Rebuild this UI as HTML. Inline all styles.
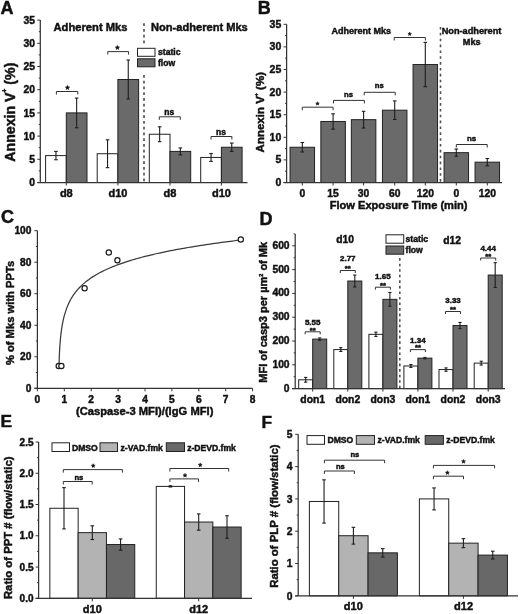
<!DOCTYPE html>
<html><head><meta charset="utf-8"><style>
html,body{margin:0;padding:0;background:#fff;width:520px;height:614px;overflow:hidden}
svg{display:block;filter:grayscale(1)}
text{font-family:"Liberation Sans",sans-serif;font-weight:bold;stroke:#111;stroke-width:0.45px}
</style></head><body>
<svg width="520" height="614" viewBox="0 0 520 614">
<rect width="520" height="614" fill="#fff"/>
<text x="0.60" y="13.90" font-size="18" text-anchor="start" fill="#111">A</text>
<line x1="40.30" y1="20.10" x2="40.30" y2="182.50" stroke="#333" stroke-width="1.25"/>
<line x1="37.30" y1="182.50" x2="40.30" y2="182.50" stroke="#333" stroke-width="1.0"/>
<text x="35.00" y="186.21" font-size="10.3" text-anchor="end" fill="#111">0</text>
<line x1="37.30" y1="159.30" x2="40.30" y2="159.30" stroke="#333" stroke-width="1.0"/>
<text x="35.00" y="163.01" font-size="10.3" text-anchor="end" fill="#111">5</text>
<line x1="37.30" y1="136.10" x2="40.30" y2="136.10" stroke="#333" stroke-width="1.0"/>
<text x="35.00" y="139.81" font-size="10.3" text-anchor="end" fill="#111">10</text>
<line x1="37.30" y1="112.90" x2="40.30" y2="112.90" stroke="#333" stroke-width="1.0"/>
<text x="35.00" y="116.61" font-size="10.3" text-anchor="end" fill="#111">15</text>
<line x1="37.30" y1="89.70" x2="40.30" y2="89.70" stroke="#333" stroke-width="1.0"/>
<text x="35.00" y="93.41" font-size="10.3" text-anchor="end" fill="#111">20</text>
<line x1="37.30" y1="66.50" x2="40.30" y2="66.50" stroke="#333" stroke-width="1.0"/>
<text x="35.00" y="70.21" font-size="10.3" text-anchor="end" fill="#111">25</text>
<line x1="37.30" y1="43.30" x2="40.30" y2="43.30" stroke="#333" stroke-width="1.0"/>
<text x="35.00" y="47.01" font-size="10.3" text-anchor="end" fill="#111">30</text>
<line x1="37.30" y1="20.10" x2="40.30" y2="20.10" stroke="#333" stroke-width="1.0"/>
<text x="35.00" y="23.81" font-size="10.3" text-anchor="end" fill="#111">35</text>
<line x1="38.80" y1="170.90" x2="40.30" y2="170.90" stroke="#333" stroke-width="1.0"/>
<line x1="38.80" y1="147.70" x2="40.30" y2="147.70" stroke="#333" stroke-width="1.0"/>
<line x1="38.80" y1="124.50" x2="40.30" y2="124.50" stroke="#333" stroke-width="1.0"/>
<line x1="38.80" y1="101.30" x2="40.30" y2="101.30" stroke="#333" stroke-width="1.0"/>
<line x1="38.80" y1="78.10" x2="40.30" y2="78.10" stroke="#333" stroke-width="1.0"/>
<line x1="38.80" y1="54.90" x2="40.30" y2="54.90" stroke="#333" stroke-width="1.0"/>
<line x1="38.80" y1="31.70" x2="40.30" y2="31.70" stroke="#333" stroke-width="1.0"/>
<rect x="45.60" y="155.59" width="20.70" height="26.91" fill="#fff" stroke="#222" stroke-width="1.0"/>
<rect x="66.30" y="112.90" width="20.70" height="69.60" fill="#6a6a6a" stroke="#222" stroke-width="1.0"/>
<line x1="55.95" y1="151.41" x2="55.95" y2="159.76" stroke="#1e1e1e" stroke-width="1.1"/>
<line x1="54.15" y1="151.41" x2="57.75" y2="151.41" stroke="#1e1e1e" stroke-width="1.1"/>
<line x1="54.15" y1="159.76" x2="57.75" y2="159.76" stroke="#1e1e1e" stroke-width="1.1"/>
<line x1="76.65" y1="98.05" x2="76.65" y2="127.75" stroke="#1e1e1e" stroke-width="1.1"/>
<line x1="74.85" y1="98.05" x2="78.45" y2="98.05" stroke="#1e1e1e" stroke-width="1.1"/>
<line x1="74.85" y1="127.75" x2="78.45" y2="127.75" stroke="#1e1e1e" stroke-width="1.1"/>
<rect x="97.20" y="153.73" width="20.70" height="28.77" fill="#fff" stroke="#222" stroke-width="1.0"/>
<rect x="117.90" y="79.49" width="20.70" height="103.01" fill="#6a6a6a" stroke="#222" stroke-width="1.0"/>
<line x1="107.55" y1="139.81" x2="107.55" y2="167.65" stroke="#1e1e1e" stroke-width="1.1"/>
<line x1="105.75" y1="139.81" x2="109.35" y2="139.81" stroke="#1e1e1e" stroke-width="1.1"/>
<line x1="105.75" y1="167.65" x2="109.35" y2="167.65" stroke="#1e1e1e" stroke-width="1.1"/>
<line x1="128.25" y1="60.00" x2="128.25" y2="98.98" stroke="#1e1e1e" stroke-width="1.1"/>
<line x1="126.45" y1="60.00" x2="130.05" y2="60.00" stroke="#1e1e1e" stroke-width="1.1"/>
<line x1="126.45" y1="98.98" x2="130.05" y2="98.98" stroke="#1e1e1e" stroke-width="1.1"/>
<rect x="149.30" y="134.24" width="20.70" height="48.26" fill="#fff" stroke="#222" stroke-width="1.0"/>
<rect x="170.00" y="151.41" width="20.70" height="31.09" fill="#6a6a6a" stroke="#222" stroke-width="1.0"/>
<line x1="159.65" y1="126.82" x2="159.65" y2="141.67" stroke="#1e1e1e" stroke-width="1.1"/>
<line x1="157.85" y1="126.82" x2="161.45" y2="126.82" stroke="#1e1e1e" stroke-width="1.1"/>
<line x1="157.85" y1="141.67" x2="161.45" y2="141.67" stroke="#1e1e1e" stroke-width="1.1"/>
<line x1="180.35" y1="147.93" x2="180.35" y2="154.89" stroke="#1e1e1e" stroke-width="1.1"/>
<line x1="178.55" y1="147.93" x2="182.15" y2="147.93" stroke="#1e1e1e" stroke-width="1.1"/>
<line x1="178.55" y1="154.89" x2="182.15" y2="154.89" stroke="#1e1e1e" stroke-width="1.1"/>
<rect x="200.70" y="157.44" width="20.70" height="25.06" fill="#fff" stroke="#222" stroke-width="1.0"/>
<rect x="221.40" y="147.24" width="20.70" height="35.26" fill="#6a6a6a" stroke="#222" stroke-width="1.0"/>
<line x1="211.05" y1="153.50" x2="211.05" y2="161.39" stroke="#1e1e1e" stroke-width="1.1"/>
<line x1="209.25" y1="153.50" x2="212.85" y2="153.50" stroke="#1e1e1e" stroke-width="1.1"/>
<line x1="209.25" y1="161.39" x2="212.85" y2="161.39" stroke="#1e1e1e" stroke-width="1.1"/>
<line x1="231.75" y1="143.06" x2="231.75" y2="151.41" stroke="#1e1e1e" stroke-width="1.1"/>
<line x1="229.95" y1="143.06" x2="233.55" y2="143.06" stroke="#1e1e1e" stroke-width="1.1"/>
<line x1="229.95" y1="151.41" x2="233.55" y2="151.41" stroke="#1e1e1e" stroke-width="1.1"/>
<line x1="37.30" y1="182.50" x2="247.50" y2="182.50" stroke="#333" stroke-width="1.25"/>
<line x1="66.30" y1="182.50" x2="66.30" y2="185.50" stroke="#333" stroke-width="1.0"/>
<line x1="117.90" y1="182.50" x2="117.90" y2="185.50" stroke="#333" stroke-width="1.0"/>
<line x1="170.00" y1="182.50" x2="170.00" y2="185.50" stroke="#333" stroke-width="1.0"/>
<line x1="221.40" y1="182.50" x2="221.40" y2="185.50" stroke="#333" stroke-width="1.0"/>
<text x="66.30" y="197.20" font-size="11" text-anchor="middle" fill="#111">d8</text>
<text x="117.90" y="197.20" font-size="11" text-anchor="middle" fill="#111">d10</text>
<text x="170.00" y="197.20" font-size="11" text-anchor="middle" fill="#111">d8</text>
<text x="221.40" y="197.20" font-size="11" text-anchor="middle" fill="#111">d10</text>
<line x1="144.00" y1="23.30" x2="144.00" y2="182.50" stroke="#555" stroke-width="1.7" stroke-dasharray="2.6,3.15"/>
<rect x="135" y="44.5" width="48" height="29" fill="#fff"/>
<rect x="137.50" y="48.30" width="17.50" height="8.00" fill="#fff" stroke="#222" stroke-width="1.0"/>
<rect x="137.50" y="58.80" width="17.50" height="8.00" fill="#6a6a6a" stroke="#222" stroke-width="1.0"/>
<text x="158.00" y="55.30" font-size="8.6" text-anchor="start" fill="#111">static</text>
<text x="158.00" y="65.80" font-size="8.6" text-anchor="start" fill="#111">flow</text>
<text x="53.50" y="31.00" font-size="11.2" text-anchor="start" fill="#111">Adherent Mks</text>
<text x="151.00" y="31.00" font-size="11.1" text-anchor="start" fill="#111">Non-adherent Mks</text>
<polyline points="56.40,94.50 56.40,91.50 77.80,91.50 77.80,94.50" fill="none" stroke="#333" stroke-width="1.0"/>
<polygon points="67.50,85.40 68.11,86.86 69.69,86.99 68.48,88.02 68.85,89.56 67.50,88.73 66.15,89.56 66.52,88.02 65.31,86.99 66.89,86.86" fill="#111" stroke="#111" stroke-width="0.5"/>
<polyline points="107.80,54.60 107.80,51.60 128.60,51.60 128.60,54.60" fill="none" stroke="#333" stroke-width="1.0"/>
<polygon points="117.40,45.40 118.01,46.86 119.59,46.99 118.38,48.02 118.75,49.56 117.40,48.73 116.05,49.56 116.42,48.02 115.21,46.99 116.79,46.86" fill="#111" stroke="#111" stroke-width="0.5"/>
<polyline points="159.30,119.80 159.30,116.80 180.30,116.80 180.30,119.80" fill="none" stroke="#333" stroke-width="1.0"/>
<text x="169.20" y="114.70" font-size="8.5" text-anchor="middle" fill="#111">ns</text>
<polyline points="211.00,139.50 211.00,136.50 231.90,136.50 231.90,139.50" fill="none" stroke="#333" stroke-width="1.0"/>
<text x="220.90" y="134.70" font-size="8.5" text-anchor="middle" fill="#111">ns</text>
<text x="14.60" y="112.20" font-size="14.2" text-anchor="middle" fill="#111" transform="rotate(-90 14.60 112.20)">Annexin V<tspan dy="-7.6" font-size="6.5">+</tspan><tspan dy="7.6"> (%)</tspan></text>
<text x="257.70" y="13.90" font-size="18" text-anchor="start" fill="#111">B</text>
<line x1="286.60" y1="24.30" x2="286.60" y2="182.50" stroke="#333" stroke-width="1.25"/>
<line x1="283.60" y1="182.50" x2="286.60" y2="182.50" stroke="#333" stroke-width="1.0"/>
<text x="281.30" y="185.98" font-size="10.5" text-anchor="end" fill="#111">0</text>
<line x1="283.60" y1="159.90" x2="286.60" y2="159.90" stroke="#333" stroke-width="1.0"/>
<text x="281.30" y="163.38" font-size="10.5" text-anchor="end" fill="#111">5</text>
<line x1="283.60" y1="137.30" x2="286.60" y2="137.30" stroke="#333" stroke-width="1.0"/>
<text x="281.30" y="140.78" font-size="10.5" text-anchor="end" fill="#111">10</text>
<line x1="283.60" y1="114.70" x2="286.60" y2="114.70" stroke="#333" stroke-width="1.0"/>
<text x="281.30" y="118.18" font-size="10.5" text-anchor="end" fill="#111">15</text>
<line x1="283.60" y1="92.10" x2="286.60" y2="92.10" stroke="#333" stroke-width="1.0"/>
<text x="281.30" y="95.58" font-size="10.5" text-anchor="end" fill="#111">20</text>
<line x1="283.60" y1="69.50" x2="286.60" y2="69.50" stroke="#333" stroke-width="1.0"/>
<text x="281.30" y="72.98" font-size="10.5" text-anchor="end" fill="#111">25</text>
<line x1="283.60" y1="46.90" x2="286.60" y2="46.90" stroke="#333" stroke-width="1.0"/>
<text x="281.30" y="50.38" font-size="10.5" text-anchor="end" fill="#111">30</text>
<line x1="283.60" y1="24.30" x2="286.60" y2="24.30" stroke="#333" stroke-width="1.0"/>
<text x="281.30" y="27.78" font-size="10.5" text-anchor="end" fill="#111">35</text>
<line x1="285.10" y1="171.20" x2="286.60" y2="171.20" stroke="#333" stroke-width="1.0"/>
<line x1="285.10" y1="148.60" x2="286.60" y2="148.60" stroke="#333" stroke-width="1.0"/>
<line x1="285.10" y1="126.00" x2="286.60" y2="126.00" stroke="#333" stroke-width="1.0"/>
<line x1="285.10" y1="103.40" x2="286.60" y2="103.40" stroke="#333" stroke-width="1.0"/>
<line x1="285.10" y1="80.80" x2="286.60" y2="80.80" stroke="#333" stroke-width="1.0"/>
<line x1="285.10" y1="58.20" x2="286.60" y2="58.20" stroke="#333" stroke-width="1.0"/>
<line x1="285.10" y1="35.60" x2="286.60" y2="35.60" stroke="#333" stroke-width="1.0"/>
<rect x="290.05" y="147.24" width="24.50" height="35.26" fill="#6a6a6a" stroke="#222" stroke-width="1.0"/>
<line x1="302.30" y1="142.50" x2="302.30" y2="151.99" stroke="#1e1e1e" stroke-width="1.1"/>
<line x1="300.50" y1="142.50" x2="304.10" y2="142.50" stroke="#1e1e1e" stroke-width="1.1"/>
<line x1="300.50" y1="151.99" x2="304.10" y2="151.99" stroke="#1e1e1e" stroke-width="1.1"/>
<rect x="320.85" y="121.48" width="24.50" height="61.02" fill="#6a6a6a" stroke="#222" stroke-width="1.0"/>
<line x1="333.10" y1="113.80" x2="333.10" y2="129.16" stroke="#1e1e1e" stroke-width="1.1"/>
<line x1="331.30" y1="113.80" x2="334.90" y2="113.80" stroke="#1e1e1e" stroke-width="1.1"/>
<line x1="331.30" y1="129.16" x2="334.90" y2="129.16" stroke="#1e1e1e" stroke-width="1.1"/>
<rect x="351.35" y="119.67" width="24.50" height="62.83" fill="#6a6a6a" stroke="#222" stroke-width="1.0"/>
<line x1="363.60" y1="111.31" x2="363.60" y2="128.03" stroke="#1e1e1e" stroke-width="1.1"/>
<line x1="361.80" y1="111.31" x2="365.40" y2="111.31" stroke="#1e1e1e" stroke-width="1.1"/>
<line x1="361.80" y1="128.03" x2="365.40" y2="128.03" stroke="#1e1e1e" stroke-width="1.1"/>
<rect x="382.45" y="110.18" width="24.50" height="72.32" fill="#6a6a6a" stroke="#222" stroke-width="1.0"/>
<line x1="394.70" y1="100.91" x2="394.70" y2="119.45" stroke="#1e1e1e" stroke-width="1.1"/>
<line x1="392.90" y1="100.91" x2="396.50" y2="100.91" stroke="#1e1e1e" stroke-width="1.1"/>
<line x1="392.90" y1="119.45" x2="396.50" y2="119.45" stroke="#1e1e1e" stroke-width="1.1"/>
<rect x="413.05" y="64.53" width="24.50" height="117.97" fill="#6a6a6a" stroke="#222" stroke-width="1.0"/>
<line x1="425.30" y1="42.38" x2="425.30" y2="86.68" stroke="#1e1e1e" stroke-width="1.1"/>
<line x1="423.50" y1="42.38" x2="427.10" y2="42.38" stroke="#1e1e1e" stroke-width="1.1"/>
<line x1="423.50" y1="86.68" x2="427.10" y2="86.68" stroke="#1e1e1e" stroke-width="1.1"/>
<rect x="444.05" y="152.67" width="24.50" height="29.83" fill="#6a6a6a" stroke="#222" stroke-width="1.0"/>
<line x1="456.30" y1="149.05" x2="456.30" y2="156.28" stroke="#1e1e1e" stroke-width="1.1"/>
<line x1="454.50" y1="149.05" x2="458.10" y2="149.05" stroke="#1e1e1e" stroke-width="1.1"/>
<line x1="454.50" y1="156.28" x2="458.10" y2="156.28" stroke="#1e1e1e" stroke-width="1.1"/>
<rect x="475.05" y="162.16" width="24.50" height="20.34" fill="#6a6a6a" stroke="#222" stroke-width="1.0"/>
<line x1="487.30" y1="158.54" x2="487.30" y2="165.78" stroke="#1e1e1e" stroke-width="1.1"/>
<line x1="485.50" y1="158.54" x2="489.10" y2="158.54" stroke="#1e1e1e" stroke-width="1.1"/>
<line x1="485.50" y1="165.78" x2="489.10" y2="165.78" stroke="#1e1e1e" stroke-width="1.1"/>
<line x1="283.60" y1="182.50" x2="502.00" y2="182.50" stroke="#333" stroke-width="1.25"/>
<line x1="302.30" y1="182.50" x2="302.30" y2="185.50" stroke="#333" stroke-width="1.0"/>
<line x1="333.10" y1="182.50" x2="333.10" y2="185.50" stroke="#333" stroke-width="1.0"/>
<line x1="363.60" y1="182.50" x2="363.60" y2="185.50" stroke="#333" stroke-width="1.0"/>
<line x1="394.70" y1="182.50" x2="394.70" y2="185.50" stroke="#333" stroke-width="1.0"/>
<line x1="425.30" y1="182.50" x2="425.30" y2="185.50" stroke="#333" stroke-width="1.0"/>
<line x1="456.30" y1="182.50" x2="456.30" y2="185.50" stroke="#333" stroke-width="1.0"/>
<line x1="487.30" y1="182.50" x2="487.30" y2="185.50" stroke="#333" stroke-width="1.0"/>
<text x="302.30" y="196.60" font-size="10.3" text-anchor="middle" fill="#111">0</text>
<text x="333.10" y="196.60" font-size="10.3" text-anchor="middle" fill="#111">15</text>
<text x="363.60" y="196.60" font-size="10.3" text-anchor="middle" fill="#111">30</text>
<text x="394.70" y="196.60" font-size="10.3" text-anchor="middle" fill="#111">60</text>
<text x="425.30" y="196.60" font-size="10.3" text-anchor="middle" fill="#111">120</text>
<text x="456.30" y="196.60" font-size="10.3" text-anchor="middle" fill="#111">0</text>
<text x="487.30" y="196.60" font-size="10.3" text-anchor="middle" fill="#111">120</text>
<text x="398.60" y="209.20" font-size="11.1" text-anchor="middle" fill="#111">Flow Exposure Time (min)</text>
<line x1="440.50" y1="27.00" x2="440.50" y2="182.50" stroke="#505050" stroke-width="1.6" stroke-dasharray="2.6,3.25"/>
<text x="331.60" y="33.60" font-size="9.0" text-anchor="start" fill="#111">Adherent Mks</text>
<text x="471.50" y="33.60" font-size="9.2" text-anchor="middle" fill="#111">Non-adherent</text>
<text x="471.70" y="45.00" font-size="9.2" text-anchor="middle" fill="#111">Mks</text>
<polyline points="302.30,110.20 302.30,107.20 333.10,107.20 333.10,110.20" fill="none" stroke="#333" stroke-width="1.0"/>
<polygon points="317.50,101.70 318.00,102.91 319.31,103.01 318.31,103.86 318.62,105.14 317.50,104.45 316.38,105.14 316.69,103.86 315.69,103.01 317.00,102.91" fill="#111" stroke="#111" stroke-width="0.5"/>
<polyline points="333.50,103.40 333.50,100.40 364.40,100.40 364.40,103.40" fill="none" stroke="#333" stroke-width="1.0"/>
<text x="348.50" y="96.70" font-size="7.7" text-anchor="middle" fill="#111">ns</text>
<polyline points="364.20,95.30 364.20,92.30 395.20,92.30 395.20,95.30" fill="none" stroke="#333" stroke-width="1.0"/>
<text x="379.20" y="88.30" font-size="7.7" text-anchor="middle" fill="#111">ns</text>
<polyline points="394.20,40.50 394.20,37.50 425.40,37.50 425.40,40.50" fill="none" stroke="#333" stroke-width="1.0"/>
<polygon points="409.70,32.10 410.20,33.31 411.51,33.41 410.51,34.26 410.82,35.54 409.70,34.85 408.58,35.54 408.89,34.26 407.89,33.41 409.20,33.31" fill="#111" stroke="#111" stroke-width="0.5"/>
<polyline points="456.30,147.50 456.30,144.50 487.20,144.50 487.20,147.50" fill="none" stroke="#333" stroke-width="1.0"/>
<text x="471.50" y="140.80" font-size="7.9" text-anchor="middle" fill="#111">ns</text>
<text x="264.20" y="112.20" font-size="11.5" text-anchor="middle" fill="#111" transform="rotate(-90 264.20 112.20)">Annexin V<tspan dy="-6.6" font-size="5.2">+</tspan><tspan dy="6.6"> (%)</tspan></text>
<text x="1.00" y="223.00" font-size="18" text-anchor="start" fill="#111">C</text>
<line x1="37.40" y1="230.70" x2="37.40" y2="388.30" stroke="#333" stroke-width="1.25"/>
<line x1="34.40" y1="388.30" x2="37.40" y2="388.30" stroke="#333" stroke-width="1.0"/>
<text x="31.40" y="391.97" font-size="10.2" text-anchor="end" fill="#111">0</text>
<line x1="34.40" y1="356.78" x2="37.40" y2="356.78" stroke="#333" stroke-width="1.0"/>
<text x="31.40" y="360.45" font-size="10.2" text-anchor="end" fill="#111">20</text>
<line x1="34.40" y1="325.26" x2="37.40" y2="325.26" stroke="#333" stroke-width="1.0"/>
<text x="31.40" y="328.93" font-size="10.2" text-anchor="end" fill="#111">40</text>
<line x1="34.40" y1="293.74" x2="37.40" y2="293.74" stroke="#333" stroke-width="1.0"/>
<text x="31.40" y="297.41" font-size="10.2" text-anchor="end" fill="#111">60</text>
<line x1="34.40" y1="262.22" x2="37.40" y2="262.22" stroke="#333" stroke-width="1.0"/>
<text x="31.40" y="265.89" font-size="10.2" text-anchor="end" fill="#111">80</text>
<line x1="34.40" y1="230.70" x2="37.40" y2="230.70" stroke="#333" stroke-width="1.0"/>
<text x="31.40" y="234.37" font-size="10.2" text-anchor="end" fill="#111">100</text>
<line x1="35.90" y1="372.54" x2="37.40" y2="372.54" stroke="#333" stroke-width="1.0"/>
<line x1="35.90" y1="341.02" x2="37.40" y2="341.02" stroke="#333" stroke-width="1.0"/>
<line x1="35.90" y1="309.50" x2="37.40" y2="309.50" stroke="#333" stroke-width="1.0"/>
<line x1="35.90" y1="277.98" x2="37.40" y2="277.98" stroke="#333" stroke-width="1.0"/>
<line x1="35.90" y1="246.46" x2="37.40" y2="246.46" stroke="#333" stroke-width="1.0"/>
<line x1="34.40" y1="388.30" x2="252.60" y2="388.30" stroke="#333" stroke-width="1.25"/>
<line x1="37.40" y1="388.30" x2="37.40" y2="391.30" stroke="#333" stroke-width="1.0"/>
<text x="37.40" y="402.60" font-size="10.2" text-anchor="middle" fill="#111">0</text>
<line x1="64.30" y1="388.30" x2="64.30" y2="391.30" stroke="#333" stroke-width="1.0"/>
<text x="64.30" y="402.60" font-size="10.2" text-anchor="middle" fill="#111">1</text>
<line x1="91.20" y1="388.30" x2="91.20" y2="391.30" stroke="#333" stroke-width="1.0"/>
<text x="91.20" y="402.60" font-size="10.2" text-anchor="middle" fill="#111">2</text>
<line x1="118.10" y1="388.30" x2="118.10" y2="391.30" stroke="#333" stroke-width="1.0"/>
<text x="118.10" y="402.60" font-size="10.2" text-anchor="middle" fill="#111">3</text>
<line x1="145.00" y1="388.30" x2="145.00" y2="391.30" stroke="#333" stroke-width="1.0"/>
<text x="145.00" y="402.60" font-size="10.2" text-anchor="middle" fill="#111">4</text>
<line x1="171.90" y1="388.30" x2="171.90" y2="391.30" stroke="#333" stroke-width="1.0"/>
<text x="171.90" y="402.60" font-size="10.2" text-anchor="middle" fill="#111">5</text>
<line x1="198.80" y1="388.30" x2="198.80" y2="391.30" stroke="#333" stroke-width="1.0"/>
<text x="198.80" y="402.60" font-size="10.2" text-anchor="middle" fill="#111">6</text>
<line x1="225.70" y1="388.30" x2="225.70" y2="391.30" stroke="#333" stroke-width="1.0"/>
<text x="225.70" y="402.60" font-size="10.2" text-anchor="middle" fill="#111">7</text>
<line x1="252.60" y1="388.30" x2="252.60" y2="391.30" stroke="#333" stroke-width="1.0"/>
<text x="252.60" y="402.60" font-size="10.2" text-anchor="middle" fill="#111">8</text>
<polyline points="58.97,366.45 59.16,360.48 59.34,355.79 59.52,351.93 59.71,348.64 59.89,345.78 60.08,343.25 60.26,340.97 60.44,338.92 60.63,337.03 60.81,335.30 60.99,333.69 61.18,332.19 61.36,330.78 61.55,329.47 61.73,328.22 61.91,327.04 62.10,325.92 62.28,324.86 62.46,323.84 62.65,322.87 62.83,321.94 63.01,321.05 63.20,320.19 63.38,319.36 63.57,318.57 63.75,317.80 63.93,317.06 64.12,316.34 64.30,315.64 64.30,315.64 66.51,308.63 68.73,303.32 70.94,299.04 73.15,295.46 75.37,292.38 77.58,289.68 79.79,287.27 82.01,285.10 84.22,283.12 86.43,281.31 88.65,279.64 90.86,278.08 93.07,276.62 95.29,275.26 97.50,273.97 99.71,272.76 101.93,271.61 104.14,270.51 106.35,269.47 108.57,268.48 110.78,267.52 112.99,266.61 115.21,265.74 117.42,264.89 119.63,264.08 121.85,263.30 124.06,262.54 126.27,261.81 128.49,261.10 130.70,260.42 132.91,259.75 135.13,259.10 137.34,258.48 139.55,257.87 141.77,257.27 143.98,256.70 146.19,256.13 148.41,255.58 150.62,255.05 152.83,254.52 155.04,254.01 157.26,253.51 159.47,253.03 161.68,252.55 163.90,252.08 166.11,251.62 168.32,251.17 170.54,250.73 172.75,250.30 174.96,249.88 177.18,249.46 179.39,249.06 181.60,248.66 183.82,248.26 186.03,247.88 188.24,247.50 190.46,247.13 192.67,246.76 194.88,246.40 197.10,246.04 199.31,245.69 201.52,245.35 203.74,245.01 205.95,244.68 208.16,244.35 210.38,244.03 212.59,243.71 214.80,243.39 217.02,243.08 219.23,242.78 221.44,242.48 223.66,242.18 225.87,241.88 228.08,241.60 230.30,241.31 232.51,241.03 234.72,240.75 236.94,240.47 239.15,240.20" fill="none" stroke="#3a3a3a" stroke-width="1.25"/>
<circle cx="58.7" cy="366" r="2.6" fill="#fff" stroke="#1a1a1a" stroke-width="1.2"/>
<circle cx="61.4" cy="366" r="2.6" fill="#fff" stroke="#1a1a1a" stroke-width="1.2"/>
<circle cx="84.6" cy="288.3" r="2.6" fill="#fff" stroke="#1a1a1a" stroke-width="1.2"/>
<circle cx="108.8" cy="252.5" r="2.6" fill="#fff" stroke="#1a1a1a" stroke-width="1.2"/>
<circle cx="117.4" cy="260.3" r="2.6" fill="#fff" stroke="#1a1a1a" stroke-width="1.2"/>
<circle cx="240.8" cy="239.5" r="2.6" fill="#fff" stroke="#1a1a1a" stroke-width="1.2"/>
<text x="144.70" y="414.50" font-size="11.2" text-anchor="middle" fill="#111">(Caspase-3 MFI)/(IgG MFI)</text>
<text x="13.60" y="313.00" font-size="11.2" text-anchor="middle" fill="#111" transform="rotate(-90 13.60 313.00)">% of Mks with PPTs</text>
<text x="259.60" y="225.00" font-size="18" text-anchor="start" fill="#111">D</text>
<line x1="295.20" y1="233.90" x2="295.20" y2="388.60" stroke="#333" stroke-width="1.25"/>
<line x1="292.20" y1="388.60" x2="295.20" y2="388.60" stroke="#333" stroke-width="1.0"/>
<text x="289.60" y="391.51" font-size="10.3" text-anchor="end" fill="#111">0</text>
<line x1="292.20" y1="364.80" x2="295.20" y2="364.80" stroke="#333" stroke-width="1.0"/>
<text x="289.60" y="367.71" font-size="10.3" text-anchor="end" fill="#111">100</text>
<line x1="292.20" y1="341.00" x2="295.20" y2="341.00" stroke="#333" stroke-width="1.0"/>
<text x="289.60" y="343.91" font-size="10.3" text-anchor="end" fill="#111">200</text>
<line x1="292.20" y1="317.20" x2="295.20" y2="317.20" stroke="#333" stroke-width="1.0"/>
<text x="289.60" y="320.11" font-size="10.3" text-anchor="end" fill="#111">300</text>
<line x1="292.20" y1="293.40" x2="295.20" y2="293.40" stroke="#333" stroke-width="1.0"/>
<text x="289.60" y="296.31" font-size="10.3" text-anchor="end" fill="#111">400</text>
<line x1="292.20" y1="269.60" x2="295.20" y2="269.60" stroke="#333" stroke-width="1.0"/>
<text x="289.60" y="272.51" font-size="10.3" text-anchor="end" fill="#111">500</text>
<line x1="292.20" y1="245.80" x2="295.20" y2="245.80" stroke="#333" stroke-width="1.0"/>
<text x="289.60" y="248.71" font-size="10.3" text-anchor="end" fill="#111">600</text>
<line x1="293.70" y1="376.70" x2="295.20" y2="376.70" stroke="#333" stroke-width="1.0"/>
<line x1="293.70" y1="352.90" x2="295.20" y2="352.90" stroke="#333" stroke-width="1.0"/>
<line x1="293.70" y1="329.10" x2="295.20" y2="329.10" stroke="#333" stroke-width="1.0"/>
<line x1="293.70" y1="305.30" x2="295.20" y2="305.30" stroke="#333" stroke-width="1.0"/>
<line x1="293.70" y1="281.50" x2="295.20" y2="281.50" stroke="#333" stroke-width="1.0"/>
<line x1="293.70" y1="257.70" x2="295.20" y2="257.70" stroke="#333" stroke-width="1.0"/>
<line x1="293.70" y1="233.90" x2="295.20" y2="233.90" stroke="#333" stroke-width="1.0"/>
<rect x="298.70" y="379.79" width="14.00" height="8.81" fill="#fff" stroke="#222" stroke-width="1.0"/>
<rect x="312.70" y="339.10" width="14.00" height="49.50" fill="#6a6a6a" stroke="#222" stroke-width="1.0"/>
<line x1="305.70" y1="377.41" x2="305.70" y2="382.17" stroke="#1e1e1e" stroke-width="1.1"/>
<line x1="304.10" y1="377.41" x2="307.30" y2="377.41" stroke="#1e1e1e" stroke-width="1.1"/>
<line x1="304.10" y1="382.17" x2="307.30" y2="382.17" stroke="#1e1e1e" stroke-width="1.1"/>
<line x1="319.70" y1="337.91" x2="319.70" y2="340.29" stroke="#1e1e1e" stroke-width="1.1"/>
<line x1="318.10" y1="337.91" x2="321.30" y2="337.91" stroke="#1e1e1e" stroke-width="1.1"/>
<line x1="318.10" y1="340.29" x2="321.30" y2="340.29" stroke="#1e1e1e" stroke-width="1.1"/>
<rect x="333.80" y="349.57" width="14.00" height="39.03" fill="#fff" stroke="#222" stroke-width="1.0"/>
<rect x="347.80" y="281.02" width="14.00" height="107.58" fill="#6a6a6a" stroke="#222" stroke-width="1.0"/>
<line x1="340.80" y1="347.66" x2="340.80" y2="351.47" stroke="#1e1e1e" stroke-width="1.1"/>
<line x1="339.20" y1="347.66" x2="342.40" y2="347.66" stroke="#1e1e1e" stroke-width="1.1"/>
<line x1="339.20" y1="351.47" x2="342.40" y2="351.47" stroke="#1e1e1e" stroke-width="1.1"/>
<line x1="354.80" y1="275.07" x2="354.80" y2="286.97" stroke="#1e1e1e" stroke-width="1.1"/>
<line x1="353.20" y1="275.07" x2="356.40" y2="275.07" stroke="#1e1e1e" stroke-width="1.1"/>
<line x1="353.20" y1="286.97" x2="356.40" y2="286.97" stroke="#1e1e1e" stroke-width="1.1"/>
<rect x="368.90" y="334.34" width="14.00" height="54.26" fill="#fff" stroke="#222" stroke-width="1.0"/>
<rect x="382.90" y="299.35" width="14.00" height="89.25" fill="#6a6a6a" stroke="#222" stroke-width="1.0"/>
<line x1="375.90" y1="332.19" x2="375.90" y2="336.48" stroke="#1e1e1e" stroke-width="1.1"/>
<line x1="374.30" y1="332.19" x2="377.50" y2="332.19" stroke="#1e1e1e" stroke-width="1.1"/>
<line x1="374.30" y1="336.48" x2="377.50" y2="336.48" stroke="#1e1e1e" stroke-width="1.1"/>
<line x1="389.90" y1="292.45" x2="389.90" y2="306.25" stroke="#1e1e1e" stroke-width="1.1"/>
<line x1="388.30" y1="292.45" x2="391.50" y2="292.45" stroke="#1e1e1e" stroke-width="1.1"/>
<line x1="388.30" y1="306.25" x2="391.50" y2="306.25" stroke="#1e1e1e" stroke-width="1.1"/>
<rect x="403.90" y="365.99" width="14.00" height="22.61" fill="#fff" stroke="#222" stroke-width="1.0"/>
<rect x="417.90" y="358.14" width="14.00" height="30.46" fill="#6a6a6a" stroke="#222" stroke-width="1.0"/>
<line x1="410.90" y1="364.56" x2="410.90" y2="367.42" stroke="#1e1e1e" stroke-width="1.1"/>
<line x1="409.30" y1="364.56" x2="412.50" y2="364.56" stroke="#1e1e1e" stroke-width="1.1"/>
<line x1="409.30" y1="367.42" x2="412.50" y2="367.42" stroke="#1e1e1e" stroke-width="1.1"/>
<line x1="424.90" y1="357.42" x2="424.90" y2="358.85" stroke="#1e1e1e" stroke-width="1.1"/>
<line x1="423.30" y1="357.42" x2="426.50" y2="357.42" stroke="#1e1e1e" stroke-width="1.1"/>
<line x1="423.30" y1="358.85" x2="426.50" y2="358.85" stroke="#1e1e1e" stroke-width="1.1"/>
<rect x="439.00" y="369.56" width="14.00" height="19.04" fill="#fff" stroke="#222" stroke-width="1.0"/>
<rect x="453.00" y="325.53" width="14.00" height="63.07" fill="#6a6a6a" stroke="#222" stroke-width="1.0"/>
<line x1="446.00" y1="367.89" x2="446.00" y2="371.23" stroke="#1e1e1e" stroke-width="1.1"/>
<line x1="444.40" y1="367.89" x2="447.60" y2="367.89" stroke="#1e1e1e" stroke-width="1.1"/>
<line x1="444.40" y1="371.23" x2="447.60" y2="371.23" stroke="#1e1e1e" stroke-width="1.1"/>
<line x1="460.00" y1="322.44" x2="460.00" y2="328.62" stroke="#1e1e1e" stroke-width="1.1"/>
<line x1="458.40" y1="322.44" x2="461.60" y2="322.44" stroke="#1e1e1e" stroke-width="1.1"/>
<line x1="458.40" y1="328.62" x2="461.60" y2="328.62" stroke="#1e1e1e" stroke-width="1.1"/>
<rect x="474.20" y="363.13" width="14.00" height="25.47" fill="#fff" stroke="#222" stroke-width="1.0"/>
<rect x="488.20" y="275.07" width="14.00" height="113.53" fill="#6a6a6a" stroke="#222" stroke-width="1.0"/>
<line x1="481.20" y1="361.23" x2="481.20" y2="365.04" stroke="#1e1e1e" stroke-width="1.1"/>
<line x1="479.60" y1="361.23" x2="482.80" y2="361.23" stroke="#1e1e1e" stroke-width="1.1"/>
<line x1="479.60" y1="365.04" x2="482.80" y2="365.04" stroke="#1e1e1e" stroke-width="1.1"/>
<line x1="495.20" y1="262.70" x2="495.20" y2="287.45" stroke="#1e1e1e" stroke-width="1.1"/>
<line x1="493.60" y1="262.70" x2="496.80" y2="262.70" stroke="#1e1e1e" stroke-width="1.1"/>
<line x1="493.60" y1="287.45" x2="496.80" y2="287.45" stroke="#1e1e1e" stroke-width="1.1"/>
<line x1="292.20" y1="388.60" x2="505.00" y2="388.60" stroke="#333" stroke-width="1.25"/>
<line x1="312.70" y1="388.60" x2="312.70" y2="391.60" stroke="#333" stroke-width="1.0"/>
<line x1="347.80" y1="388.60" x2="347.80" y2="391.60" stroke="#333" stroke-width="1.0"/>
<line x1="382.90" y1="388.60" x2="382.90" y2="391.60" stroke="#333" stroke-width="1.0"/>
<line x1="417.90" y1="388.60" x2="417.90" y2="391.60" stroke="#333" stroke-width="1.0"/>
<line x1="453.00" y1="388.60" x2="453.00" y2="391.60" stroke="#333" stroke-width="1.0"/>
<line x1="488.20" y1="388.60" x2="488.20" y2="391.60" stroke="#333" stroke-width="1.0"/>
<text x="312.70" y="402.80" font-size="10.4" text-anchor="middle" fill="#111">don1</text>
<text x="347.80" y="402.80" font-size="10.4" text-anchor="middle" fill="#111">don2</text>
<text x="382.90" y="402.80" font-size="10.4" text-anchor="middle" fill="#111">don3</text>
<text x="417.90" y="402.80" font-size="10.4" text-anchor="middle" fill="#111">don1</text>
<text x="453.00" y="402.80" font-size="10.4" text-anchor="middle" fill="#111">don2</text>
<text x="488.20" y="402.80" font-size="10.4" text-anchor="middle" fill="#111">don3</text>
<line x1="399.80" y1="258.10" x2="399.80" y2="388.60" stroke="#505050" stroke-width="1.6" stroke-dasharray="2.6,2.95"/>
<rect x="384" y="232" width="47" height="24" fill="#fff"/>
<rect x="386.00" y="234.80" width="17.70" height="8.40" fill="#fff" stroke="#222" stroke-width="1.0"/>
<rect x="386.00" y="246.00" width="17.70" height="8.20" fill="#6a6a6a" stroke="#222" stroke-width="1.0"/>
<text x="405.60" y="241.90" font-size="8.6" text-anchor="start" fill="#111">static</text>
<text x="405.60" y="252.50" font-size="8.6" text-anchor="start" fill="#111">flow</text>
<text x="345.00" y="243.00" font-size="10.3" text-anchor="middle" fill="#111">d10</text>
<text x="452.00" y="243.50" font-size="10.3" text-anchor="middle" fill="#111">d12</text>
<polyline points="305.20,334.30 305.20,331.80 320.20,331.80 320.20,334.30" fill="none" stroke="#333" stroke-width="1.0"/>
<text x="312.70" y="332.60" font-size="7.6" text-anchor="middle" fill="#111">**</text>
<text x="312.70" y="324.60" font-size="8" text-anchor="middle" fill="#111">5.55</text>
<polyline points="340.30,273.00 340.30,270.50 355.30,270.50 355.30,273.00" fill="none" stroke="#333" stroke-width="1.0"/>
<text x="347.80" y="271.30" font-size="7.6" text-anchor="middle" fill="#111">**</text>
<text x="347.80" y="261.40" font-size="8" text-anchor="middle" fill="#111">2.77</text>
<polyline points="375.40,289.70 375.40,287.20 390.40,287.20 390.40,289.70" fill="none" stroke="#333" stroke-width="1.0"/>
<text x="382.90" y="288.00" font-size="7.6" text-anchor="middle" fill="#111">**</text>
<text x="382.90" y="279.30" font-size="8" text-anchor="middle" fill="#111">1.65</text>
<polyline points="410.40,352.10 410.40,349.60 425.40,349.60 425.40,352.10" fill="none" stroke="#333" stroke-width="1.0"/>
<text x="417.90" y="350.40" font-size="7.6" text-anchor="middle" fill="#111">**</text>
<text x="417.90" y="343.10" font-size="8" text-anchor="middle" fill="#111">1.34</text>
<polyline points="445.50,314.00 445.50,311.50 460.50,311.50 460.50,314.00" fill="none" stroke="#333" stroke-width="1.0"/>
<text x="453.00" y="312.30" font-size="7.6" text-anchor="middle" fill="#111">**</text>
<text x="453.00" y="303.40" font-size="8" text-anchor="middle" fill="#111">3.33</text>
<polyline points="480.70,260.50 480.70,258.00 495.70,258.00 495.70,260.50" fill="none" stroke="#333" stroke-width="1.0"/>
<text x="488.20" y="258.80" font-size="7.6" text-anchor="middle" fill="#111">**</text>
<text x="488.20" y="250.70" font-size="8" text-anchor="middle" fill="#111">4.44</text>
<text x="267.50" y="312.30" font-size="11" text-anchor="middle" fill="#111" transform="rotate(-90 267.50 312.30)">MFI of casp3 per µm<tspan dy="-4.2" font-size="5.5">2</tspan><tspan dy="4.2"> of Mk</tspan></text>
<text x="0.60" y="427.20" font-size="17.3" text-anchor="start" fill="#111">E</text>
<line x1="38.60" y1="442.00" x2="38.60" y2="598.30" stroke="#333" stroke-width="1.25"/>
<line x1="35.60" y1="598.30" x2="38.60" y2="598.30" stroke="#333" stroke-width="1.0"/>
<text x="33.50" y="601.90" font-size="10" text-anchor="end" fill="#111">0.0</text>
<line x1="35.60" y1="567.04" x2="38.60" y2="567.04" stroke="#333" stroke-width="1.0"/>
<text x="33.50" y="570.64" font-size="10" text-anchor="end" fill="#111">0.5</text>
<line x1="35.60" y1="535.78" x2="38.60" y2="535.78" stroke="#333" stroke-width="1.0"/>
<text x="33.50" y="539.38" font-size="10" text-anchor="end" fill="#111">1.0</text>
<line x1="35.60" y1="504.52" x2="38.60" y2="504.52" stroke="#333" stroke-width="1.0"/>
<text x="33.50" y="508.12" font-size="10" text-anchor="end" fill="#111">1.5</text>
<line x1="35.60" y1="473.26" x2="38.60" y2="473.26" stroke="#333" stroke-width="1.0"/>
<text x="33.50" y="476.86" font-size="10" text-anchor="end" fill="#111">2.0</text>
<line x1="35.60" y1="442.00" x2="38.60" y2="442.00" stroke="#333" stroke-width="1.0"/>
<text x="33.50" y="445.60" font-size="10" text-anchor="end" fill="#111">2.5</text>
<line x1="37.10" y1="582.67" x2="38.60" y2="582.67" stroke="#333" stroke-width="1.0"/>
<line x1="37.10" y1="551.41" x2="38.60" y2="551.41" stroke="#333" stroke-width="1.0"/>
<line x1="37.10" y1="520.15" x2="38.60" y2="520.15" stroke="#333" stroke-width="1.0"/>
<line x1="37.10" y1="488.89" x2="38.60" y2="488.89" stroke="#333" stroke-width="1.0"/>
<line x1="37.10" y1="457.63" x2="38.60" y2="457.63" stroke="#333" stroke-width="1.0"/>
<rect x="49.85" y="508.27" width="28.30" height="90.03" fill="#fff" stroke="#222" stroke-width="1.0"/>
<line x1="64.00" y1="487.64" x2="64.00" y2="528.90" stroke="#1e1e1e" stroke-width="1.1"/>
<line x1="62.20" y1="487.64" x2="65.80" y2="487.64" stroke="#1e1e1e" stroke-width="1.1"/>
<line x1="62.20" y1="528.90" x2="65.80" y2="528.90" stroke="#1e1e1e" stroke-width="1.1"/>
<rect x="78.15" y="532.65" width="28.30" height="65.65" fill="#b3b3b3" stroke="#222" stroke-width="1.0"/>
<line x1="92.30" y1="525.78" x2="92.30" y2="539.53" stroke="#1e1e1e" stroke-width="1.1"/>
<line x1="90.50" y1="525.78" x2="94.10" y2="525.78" stroke="#1e1e1e" stroke-width="1.1"/>
<line x1="90.50" y1="539.53" x2="94.10" y2="539.53" stroke="#1e1e1e" stroke-width="1.1"/>
<rect x="106.45" y="544.53" width="28.30" height="53.77" fill="#686868" stroke="#222" stroke-width="1.0"/>
<line x1="120.60" y1="538.91" x2="120.60" y2="550.16" stroke="#1e1e1e" stroke-width="1.1"/>
<line x1="118.80" y1="538.91" x2="122.40" y2="538.91" stroke="#1e1e1e" stroke-width="1.1"/>
<line x1="118.80" y1="550.16" x2="122.40" y2="550.16" stroke="#1e1e1e" stroke-width="1.1"/>
<rect x="156.25" y="486.39" width="28.30" height="111.91" fill="#fff" stroke="#222" stroke-width="1.0"/>
<line x1="170.40" y1="485.76" x2="170.40" y2="487.01" stroke="#1e1e1e" stroke-width="1.1"/>
<line x1="168.60" y1="485.76" x2="172.20" y2="485.76" stroke="#1e1e1e" stroke-width="1.1"/>
<line x1="168.60" y1="487.01" x2="172.20" y2="487.01" stroke="#1e1e1e" stroke-width="1.1"/>
<rect x="184.55" y="522.03" width="28.30" height="76.27" fill="#b3b3b3" stroke="#222" stroke-width="1.0"/>
<line x1="198.70" y1="513.90" x2="198.70" y2="530.15" stroke="#1e1e1e" stroke-width="1.1"/>
<line x1="196.90" y1="513.90" x2="200.50" y2="513.90" stroke="#1e1e1e" stroke-width="1.1"/>
<line x1="196.90" y1="530.15" x2="200.50" y2="530.15" stroke="#1e1e1e" stroke-width="1.1"/>
<rect x="212.85" y="527.03" width="28.30" height="71.27" fill="#686868" stroke="#222" stroke-width="1.0"/>
<line x1="227.00" y1="515.77" x2="227.00" y2="538.28" stroke="#1e1e1e" stroke-width="1.1"/>
<line x1="225.20" y1="515.77" x2="228.80" y2="515.77" stroke="#1e1e1e" stroke-width="1.1"/>
<line x1="225.20" y1="538.28" x2="228.80" y2="538.28" stroke="#1e1e1e" stroke-width="1.1"/>
<line x1="35.60" y1="598.30" x2="252.00" y2="598.30" stroke="#333" stroke-width="1.25"/>
<line x1="92.30" y1="598.30" x2="92.30" y2="601.30" stroke="#333" stroke-width="1.0"/>
<line x1="198.70" y1="598.30" x2="198.70" y2="601.30" stroke="#333" stroke-width="1.0"/>
<text x="92.30" y="612.50" font-size="11" text-anchor="middle" fill="#111">d10</text>
<text x="198.70" y="612.50" font-size="11" text-anchor="middle" fill="#111">d12</text>
<rect x="52.00" y="442.80" width="17.50" height="8.70" fill="#fff" stroke="#222" stroke-width="1.0"/>
<text x="72.00" y="450.50" font-size="8.6" text-anchor="start" fill="#111">DMSO</text>
<rect x="100.00" y="442.80" width="17.50" height="8.70" fill="#b3b3b3" stroke="#222" stroke-width="1.0"/>
<text x="120.50" y="450.50" font-size="8.6" text-anchor="start" fill="#111">z-VAD.fmk</text>
<rect x="166.30" y="442.80" width="18.20" height="8.70" fill="#686868" stroke="#222" stroke-width="1.0"/>
<text x="187.20" y="450.50" font-size="8.6" text-anchor="start" fill="#111">z-DEVD.fmk</text>
<polyline points="63.30,472.60 63.30,469.60 122.40,469.60 122.40,472.60" fill="none" stroke="#333" stroke-width="1.0"/>
<polygon points="93.20,463.70 93.76,465.04 95.20,465.15 94.10,466.09 94.43,467.50 93.20,466.75 91.97,467.50 92.30,466.09 91.20,465.15 92.64,465.04" fill="#111" stroke="#111" stroke-width="0.5"/>
<polyline points="63.30,484.50 63.30,481.50 92.20,481.50 92.20,484.50" fill="none" stroke="#333" stroke-width="1.0"/>
<text x="78.90" y="479.60" font-size="7.6" text-anchor="middle" fill="#111">ns</text>
<polyline points="169.90,471.50 169.90,468.50 228.70,468.50 228.70,471.50" fill="none" stroke="#333" stroke-width="1.0"/>
<polygon points="200.20,462.90 200.76,464.24 202.20,464.35 201.10,465.29 201.43,466.70 200.20,465.94 198.97,466.70 199.30,465.29 198.20,464.35 199.64,464.24" fill="#111" stroke="#111" stroke-width="0.5"/>
<polyline points="169.90,481.90 169.90,478.90 198.50,478.90 198.50,481.90" fill="none" stroke="#333" stroke-width="1.0"/>
<polygon points="185.00,473.30 185.56,474.64 187.00,474.75 185.90,475.69 186.23,477.10 185.00,476.34 183.77,477.10 184.10,475.69 183.00,474.75 184.44,474.64" fill="#111" stroke="#111" stroke-width="0.5"/>
<text x="12.30" y="527.80" font-size="11.3" text-anchor="middle" fill="#111" transform="rotate(-90 12.30 527.80)">Ratio of PPT # (flow/static)</text>
<text x="261.50" y="427.70" font-size="17.3" text-anchor="start" fill="#111">F</text>
<line x1="298.20" y1="434.30" x2="298.20" y2="595.80" stroke="#333" stroke-width="1.25"/>
<line x1="295.20" y1="595.80" x2="298.20" y2="595.80" stroke="#333" stroke-width="1.0"/>
<text x="292.60" y="599.51" font-size="10.3" text-anchor="end" fill="#111">0</text>
<line x1="295.20" y1="563.50" x2="298.20" y2="563.50" stroke="#333" stroke-width="1.0"/>
<text x="292.60" y="567.21" font-size="10.3" text-anchor="end" fill="#111">1</text>
<line x1="295.20" y1="531.20" x2="298.20" y2="531.20" stroke="#333" stroke-width="1.0"/>
<text x="292.60" y="534.91" font-size="10.3" text-anchor="end" fill="#111">2</text>
<line x1="295.20" y1="498.90" x2="298.20" y2="498.90" stroke="#333" stroke-width="1.0"/>
<text x="292.60" y="502.61" font-size="10.3" text-anchor="end" fill="#111">3</text>
<line x1="295.20" y1="466.60" x2="298.20" y2="466.60" stroke="#333" stroke-width="1.0"/>
<text x="292.60" y="470.31" font-size="10.3" text-anchor="end" fill="#111">4</text>
<line x1="295.20" y1="434.30" x2="298.20" y2="434.30" stroke="#333" stroke-width="1.0"/>
<text x="292.60" y="438.01" font-size="10.3" text-anchor="end" fill="#111">5</text>
<line x1="296.70" y1="579.65" x2="298.20" y2="579.65" stroke="#333" stroke-width="1.0"/>
<line x1="296.70" y1="547.35" x2="298.20" y2="547.35" stroke="#333" stroke-width="1.0"/>
<line x1="296.70" y1="515.05" x2="298.20" y2="515.05" stroke="#333" stroke-width="1.0"/>
<line x1="296.70" y1="482.75" x2="298.20" y2="482.75" stroke="#333" stroke-width="1.0"/>
<line x1="296.70" y1="450.45" x2="298.20" y2="450.45" stroke="#333" stroke-width="1.0"/>
<rect x="309.38" y="501.48" width="29.35" height="94.32" fill="#fff" stroke="#222" stroke-width="1.0"/>
<line x1="324.05" y1="479.84" x2="324.05" y2="523.12" stroke="#1e1e1e" stroke-width="1.1"/>
<line x1="322.25" y1="479.84" x2="325.85" y2="479.84" stroke="#1e1e1e" stroke-width="1.1"/>
<line x1="322.25" y1="523.12" x2="325.85" y2="523.12" stroke="#1e1e1e" stroke-width="1.1"/>
<rect x="338.73" y="535.72" width="29.35" height="60.08" fill="#b3b3b3" stroke="#222" stroke-width="1.0"/>
<line x1="353.40" y1="527.32" x2="353.40" y2="544.12" stroke="#1e1e1e" stroke-width="1.1"/>
<line x1="351.60" y1="527.32" x2="355.20" y2="527.32" stroke="#1e1e1e" stroke-width="1.1"/>
<line x1="351.60" y1="544.12" x2="355.20" y2="544.12" stroke="#1e1e1e" stroke-width="1.1"/>
<rect x="368.07" y="552.84" width="29.35" height="42.96" fill="#686868" stroke="#222" stroke-width="1.0"/>
<line x1="382.75" y1="548.64" x2="382.75" y2="557.04" stroke="#1e1e1e" stroke-width="1.1"/>
<line x1="380.95" y1="548.64" x2="384.55" y2="548.64" stroke="#1e1e1e" stroke-width="1.1"/>
<line x1="380.95" y1="557.04" x2="384.55" y2="557.04" stroke="#1e1e1e" stroke-width="1.1"/>
<rect x="419.38" y="498.90" width="29.35" height="96.90" fill="#fff" stroke="#222" stroke-width="1.0"/>
<line x1="434.05" y1="487.92" x2="434.05" y2="509.88" stroke="#1e1e1e" stroke-width="1.1"/>
<line x1="432.25" y1="487.92" x2="435.85" y2="487.92" stroke="#1e1e1e" stroke-width="1.1"/>
<line x1="432.25" y1="509.88" x2="435.85" y2="509.88" stroke="#1e1e1e" stroke-width="1.1"/>
<rect x="448.73" y="543.15" width="29.35" height="52.65" fill="#b3b3b3" stroke="#222" stroke-width="1.0"/>
<line x1="463.40" y1="538.63" x2="463.40" y2="547.67" stroke="#1e1e1e" stroke-width="1.1"/>
<line x1="461.60" y1="538.63" x2="465.20" y2="538.63" stroke="#1e1e1e" stroke-width="1.1"/>
<line x1="461.60" y1="547.67" x2="465.20" y2="547.67" stroke="#1e1e1e" stroke-width="1.1"/>
<rect x="478.07" y="555.10" width="29.35" height="40.70" fill="#686868" stroke="#222" stroke-width="1.0"/>
<line x1="492.75" y1="551.23" x2="492.75" y2="558.98" stroke="#1e1e1e" stroke-width="1.1"/>
<line x1="490.95" y1="551.23" x2="494.55" y2="551.23" stroke="#1e1e1e" stroke-width="1.1"/>
<line x1="490.95" y1="558.98" x2="494.55" y2="558.98" stroke="#1e1e1e" stroke-width="1.1"/>
<line x1="295.20" y1="595.80" x2="518.00" y2="595.80" stroke="#333" stroke-width="1.25"/>
<line x1="353.40" y1="595.80" x2="353.40" y2="598.80" stroke="#333" stroke-width="1.0"/>
<line x1="463.40" y1="595.80" x2="463.40" y2="598.80" stroke="#333" stroke-width="1.0"/>
<text x="353.30" y="610.30" font-size="11" text-anchor="middle" fill="#111">d10</text>
<text x="463.60" y="610.30" font-size="11" text-anchor="middle" fill="#111">d12</text>
<rect x="307.00" y="435.60" width="17.50" height="8.70" fill="#fff" stroke="#222" stroke-width="1.0"/>
<text x="327.50" y="443.30" font-size="8.6" text-anchor="start" fill="#111">DMSO</text>
<rect x="356.30" y="435.60" width="18.20" height="8.70" fill="#b3b3b3" stroke="#222" stroke-width="1.0"/>
<text x="377.50" y="443.30" font-size="8.6" text-anchor="start" fill="#111">z-VAD.fmk</text>
<rect x="425.20" y="435.60" width="18.20" height="8.70" fill="#686868" stroke="#222" stroke-width="1.0"/>
<text x="446.20" y="443.30" font-size="8.6" text-anchor="start" fill="#111">z-DEVD.fmk</text>
<polyline points="324.40,463.20 324.40,460.20 384.60,460.20 384.60,463.20" fill="none" stroke="#333" stroke-width="1.0"/>
<text x="354.90" y="457.30" font-size="7.6" text-anchor="middle" fill="#111">ns</text>
<polyline points="324.40,474.00 324.40,471.00 354.40,471.00 354.40,474.00" fill="none" stroke="#333" stroke-width="1.0"/>
<text x="340.40" y="469.40" font-size="7.6" text-anchor="middle" fill="#111">ns</text>
<polyline points="433.40,468.40 433.40,465.40 494.60,465.40 494.60,468.40" fill="none" stroke="#333" stroke-width="1.0"/>
<polygon points="463.50,459.40 464.06,460.74 465.50,460.85 464.40,461.79 464.73,463.20 463.50,462.44 462.27,463.20 462.60,461.79 461.50,460.85 462.94,460.74" fill="#111" stroke="#111" stroke-width="0.5"/>
<polyline points="433.40,479.20 433.40,476.20 463.50,476.20 463.50,479.20" fill="none" stroke="#333" stroke-width="1.0"/>
<polygon points="447.40,470.70 447.96,472.04 449.40,472.15 448.30,473.09 448.63,474.50 447.40,473.75 446.17,474.50 446.50,473.09 445.40,472.15 446.84,472.04" fill="#111" stroke="#111" stroke-width="0.5"/>
<text x="278.50" y="516.10" font-size="11.4" text-anchor="middle" fill="#111" transform="rotate(-90 278.50 516.10)">Ratio of PLP # (flow/static)</text>
</svg></body></html>
